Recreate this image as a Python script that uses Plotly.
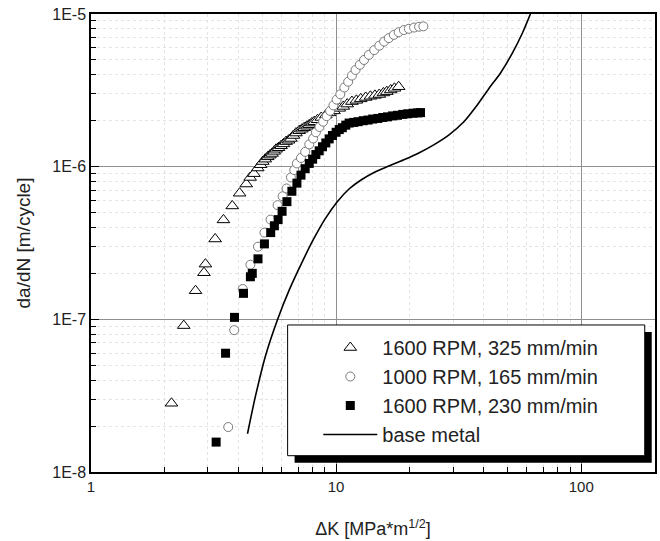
import plotly.graph_objects as go

# ---- data ----
tri_x = [2.13, 2.39, 2.67, 2.89, 2.93, 3.21, 3.47, 3.77, 4.04, 4.30, 4.46, 4.62, 4.79, 4.92,
         5.02, 5.14, 5.26, 5.37, 5.48, 5.59, 5.69, 5.82, 5.96, 6.10, 6.25, 6.40, 6.54, 6.70,
         6.86, 7.07, 7.25, 7.41, 7.60, 7.77, 7.95, 8.14, 8.40, 8.70, 9.08, 9.40, 9.80, 10.3,
         10.7, 11.1, 11.6, 12.1, 12.6, 13.2, 13.8, 14.4, 15.0, 15.6, 16.1, 16.7, 17.3, 18.0]
tri_y = [2.82e-8, 9.1e-8, 1.54e-7, 2.02e-7, 2.30e-7, 3.36e-7, 4.48e-7, 5.53e-7, 6.7e-7, 7.7e-7,
         8.5e-7, 9.0e-7, 9.8e-7, 1.03e-6, 1.08e-6, 1.12e-6, 1.16e-6, 1.19e-6, 1.22e-6, 1.26e-6,
         1.30e-6, 1.33e-6, 1.37e-6, 1.41e-6, 1.46e-6, 1.49e-6, 1.53e-6, 1.60e-6, 1.66e-6, 1.72e-6,
         1.76e-6, 1.80e-6, 1.84e-6, 1.88e-6, 1.93e-6, 1.97e-6, 2.03e-6, 2.10e-6, 2.18e-6, 2.25e-6,
         2.32e-6, 2.41e-6, 2.48e-6, 2.57e-6, 2.67e-6, 2.72e-6, 2.78e-6, 2.84e-6, 2.89e-6, 2.93e-6,
         2.97e-6, 3.04e-6, 3.10e-6, 3.18e-6, 3.26e-6, 3.34e-6]

cir_x = [3.63, 3.84, 4.16, 4.47, 4.80, 5.10, 5.40, 5.77, 6.05, 6.28, 6.54, 6.75, 6.92, 7.19,
         7.48, 7.77, 8.06, 8.27, 8.55, 8.85, 9.15, 9.45, 9.75, 10.05, 10.4, 10.8, 11.2, 11.6,
         12.0, 12.5, 13.0, 13.6, 14.3, 15.0, 15.7, 16.4, 17.2, 18.0, 18.9, 19.8, 20.8, 21.8, 22.7]
cir_y = [1.97e-8, 8.5e-8, 1.58e-7, 2.28e-7, 2.99e-7, 3.7e-7, 4.5e-7, 5.6e-7, 6.4e-7, 7.2e-7,
         8.5e-7, 9.5e-7, 1.05e-6, 1.14e-6, 1.25e-6, 1.40e-6, 1.53e-6, 1.68e-6, 1.82e-6, 1.97e-6,
         2.14e-6, 2.32e-6, 2.52e-6, 2.75e-6, 2.98e-6, 3.3e-6, 3.6e-6, 3.95e-6, 4.3e-6, 4.65e-6,
         5.0e-6, 5.4e-6, 5.8e-6, 6.2e-6, 6.6e-6, 6.95e-6, 7.3e-6, 7.6e-6, 7.85e-6, 8.0e-6,
         8.15e-6, 8.25e-6, 8.3e-6]

sq_x = [3.24, 3.54, 3.85, 4.19, 4.47, 4.55, 4.80, 5.10, 5.41, 5.60, 5.80, 6.02, 6.30, 6.60,
        6.92, 7.19, 7.48, 7.77, 8.02, 8.27, 8.53, 8.80, 9.08, 9.37, 9.66, 10.0, 10.3, 10.6,
        10.95, 11.3, 11.8, 12.3, 12.9, 13.5, 14.1, 14.8, 15.5, 16.2, 17.0, 17.8, 18.7, 19.6,
        20.6, 21.5, 22.1]
sq_y = [1.57e-8, 6.0e-8, 1.03e-7, 1.48e-7, 1.9e-7, 2.0e-7, 2.49e-7, 3.12e-7, 3.7e-7, 4.1e-7,
        4.5e-7, 5.1e-7, 5.9e-7, 6.9e-7, 7.8e-7, 8.8e-7, 9.7e-7, 1.05e-6, 1.12e-6, 1.20e-6,
        1.27e-6, 1.35e-6, 1.43e-6, 1.52e-6, 1.60e-6, 1.68e-6, 1.75e-6, 1.80e-6, 1.87e-6, 1.93e-6,
        1.95e-6, 1.97e-6, 2.0e-6, 2.02e-6, 2.05e-6, 2.07e-6, 2.10e-6, 2.12e-6, 2.15e-6, 2.17e-6,
        2.20e-6, 2.22e-6, 2.24e-6, 2.25e-6, 2.26e-6]

base_x = [4.35, 4.69, 5.15, 5.76, 6.44, 7.21, 8.06, 9.02, 10.09, 11.29, 12.64, 14.41, 16.42,
          18.90, 21.75, 25.02, 28.80, 33.14, 37.43, 41.88, 46.85, 52.43, 57.57, 62.04]
base_y = [1.78e-8, 3.15e-8, 5.76e-8, 9.91e-8, 1.56e-7, 2.31e-7, 3.31e-7, 4.55e-7, 5.87e-7,
          7.14e-7, 8.18e-7, 9.23e-7, 1.01e-6, 1.11e-6, 1.23e-6, 1.39e-6, 1.61e-6, 1.96e-6,
          2.50e-6, 3.23e-6, 4.11e-6, 5.56e-6, 7.51e-6, 1.0e-5]

names = ["1600 RPM, 325 mm/min", "1000 RPM, 165 mm/min", "1600 RPM, 230 mm/min", "base metal"]

x_ticks = [1, 10, 100]
x_ticktext = ["1", "10", "100"]
y_ticks = [1e-8, 1e-7, 1e-6, 1e-5]
y_ticktext = ["1E-8", "1E-7", "1E-6", "1E-5"]

FONT = "Liberation Sans, Arial, sans-serif"

fig = go.Figure()
fig.add_trace(go.Scatter(x=tri_x, y=tri_y, mode="markers", name=names[0],
                         marker=dict(symbol="triangle-up", size=11, color="white",
                                     line=dict(color="black", width=1))))
fig.add_trace(go.Scatter(x=cir_x, y=cir_y, mode="markers", name=names[1],
                         marker=dict(symbol="circle", size=9, color="white",
                                     line=dict(color="#7a7a7a", width=1))))
fig.add_trace(go.Scatter(x=sq_x, y=sq_y, mode="markers", name=names[2],
                         marker=dict(symbol="square", size=9, color="black",
                                     line=dict(color="black", width=0))))
fig.add_trace(go.Scatter(x=base_x, y=base_y, mode="lines", name=names[3],
                         line=dict(color="black", width=1.6, shape="spline", smoothing=0.8)))

minor_x = [m * 10 ** d for d in range(0, 3) for m in range(2, 10) if m * 10 ** d <= 200]
minor_y = [m * 10.0 ** d for d in range(-8, -5) for m in range(2, 10)]

axis_common = dict(type="log", showline=True, linecolor="black", linewidth=1.5, mirror=True,
                   ticks="inside", ticklen=8, tickwidth=1, tickcolor="black",
                   showgrid=True, gridcolor="#8f8f8f", gridwidth=1, zeroline=False,
                   tickmode="array")

minor_style = dict(tickmode="array", ticks="inside", ticklen=5, tickcolor="black",
                   showgrid=True, gridcolor="#e4e4e4", griddash="dot", gridwidth=1)

fig.update_xaxes(**axis_common, range=[0, 2.30103], tickvals=x_ticks, ticktext=x_ticktext,
                 tickfont=dict(family=FONT, size=15, color="#222"),
                 title=dict(text="ΔK [MPa*m<sup>1/2</sup>]", font=dict(family=FONT, size=18, color="#222"),
                            standoff=29),
                 minor=dict(tickvals=minor_x, **minor_style))
fig.update_yaxes(**axis_common, range=[-8, -5], tickvals=y_ticks, ticktext=y_ticktext,
                 tickfont=dict(family=FONT, size=16, color="#222"),
                 title=dict(text="da/dN [m/cycle]", font=dict(family=FONT, size=19, color="#222"),
                            standoff=17),
                 minor=dict(tickvals=minor_y, **minor_style))

# legend frame with drop shadow (paper coordinates)
fig.add_shape(type="rect", xref="paper", yref="paper", x0=0.361, x1=0.9942, y0=0.0203, y1=0.3057,
              fillcolor="black", line=dict(width=0), layer="above")
fig.add_shape(type="rect", xref="paper", yref="paper", x0=0.3486, x1=0.9818, y0=0.0356, y1=0.321,
              fillcolor="white", line=dict(color="black", width=1), layer="above")

fig.update_layout(
    width=660, height=541,
    margin=dict(l=91, r=3, t=14, b=69),
    paper_bgcolor="white", plot_bgcolor="white",
    font=dict(family=FONT, color="#222"),
    showlegend=True,
    legend=dict(x=0.403, y=0.3144, xanchor="left", yanchor="top",
                bgcolor="rgba(0,0,0,0)", borderwidth=0,
                font=dict(family=FONT, size=20, color="#222"),
                itemwidth=54, tracegroupgap=0),
)

fig.write_html("out.html")
